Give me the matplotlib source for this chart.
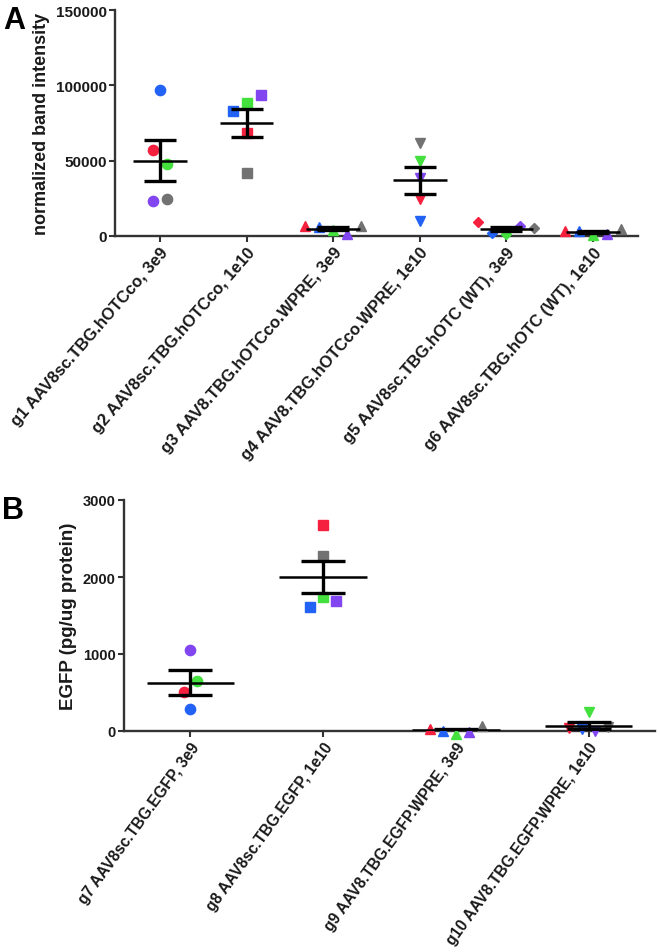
import numpy as np
import matplotlib
matplotlib.use("Agg")
import matplotlib.pyplot as plt

plt.rcParams['font.family'] = ['Liberation Sans', 'DejaVu Sans']
plt.rcParams['font.weight'] = 'bold'

# ---------------- data ----------------
colors_order = ['red', 'blue', 'green', 'purple', 'gray']

# Panel A: normalized band intensity (order: red, blue, green, purple, gray)
groups_a = ["g1 AAV8sc.TBG.hOTCco, 3e9",
            "g2 AAV8sc.TBG.hOTCco, 1e10",
            "g3 AAV8.TBG.hOTCco.WPRE, 3e9",
            "g4 AAV8.TBG.hOTCco.WPRE, 1e10",
            "g5 AAV8sc.TBG.hOTC (WT), 3e9",
            "g6 AAV8sc.TBG.hOTC (WT), 1e10"]
g1 = [57100, 97100, 48000, 23200, 24400]
g2 = [68400, 82800, 88300, 93800, 42000]
g3 = [6500, 5800, 4000, 1300, 6500]
g4 = [24600, 10200, 50000, 38500, 61700]
g5 = [9000, 2000, 1500, 6500, 5000]
g6 = [3500, 3000, 500, 1500, 4500]
values_a = [g1, g2, g3, g4, g5, g6]
yticks_a = [0, 50000, 100000, 150000]

# Panel B: EGFP (pg/ug protein)
groups_b = ["g7 AAV8sc.TBG.EGFP, 3e9",
            "g8 AAV8sc.TBG.EGFP, 1e10",
            "g9 AAV8.TBG.EGFP.WPRE, 3e9",
            "g10 AAV8.TBG.EGFP.WPRE, 1e10"]
g7 = [503, 286, 654, 1057]
g7_colors = ['red', 'blue', 'green', 'purple']
g8 = [2669, 1616, 1746, 1694, 2279]
g9 = [30, 0, -40, -10, 60]
g10 = [40, 20, 243, 0, 47]
values_b = [g7, g8, g9, g10]
colors_b = [g7_colors, colors_order, colors_order, colors_order]
yticks_b = [0, 1000, 2000, 3000]

# ---------------- style ----------------
palette = {'red': '#F5203E', 'blue': '#2262F5', 'green': '#44E03E',
           'purple': '#8246F0', 'gray': '#727272'}
markers_a = ['o', 's', '^', 'v', 'D', '^']
markers_b = ['o', 's', '^', 'v']
msize = {'o': 7.4, 's': 7.0, '^': 7.0, 'v': 7.0, 'D': 5.2}
AX_COL = '#333333'
TXT = '#1a1a1a'

fig = plt.figure(figsize=(6.6, 9.53), dpi=100)
W, H = 660, 953


def add_ax(l, t, r, b):
    return fig.add_axes([l / W, 1 - b / H, (r - l) / W, (b - t) / H])


def row_offsets(ax, vals, thresh_px, step_px):
    """Spread points that sit close together vertically (like a scatter dot plot)."""
    tr = ax.transData
    ypix = [tr.transform((0, v))[1] for v in vals]
    pxu = tr.transform((1, 0))[0] - tr.transform((0, 0))[0]
    order = np.argsort(ypix)
    rows, cur = [], [order[0]]
    for i in order[1:]:
        if ypix[i] - ypix[cur[-1]] < thresh_px:
            cur.append(i)
        else:
            rows.append(cur)
            cur = [i]
    rows.append(cur)
    offs = np.zeros(len(vals))
    for r in rows:
        r = sorted(r)
        n = len(r)
        for k, i in enumerate(r):
            offs[i] = (k - (n - 1) / 2) * step_px / pxu
    return offs


def draw_panel(ax, values, color_lists, markers, xlim, ylim, yticks, labels,
               mean_hw, cap_hw, rot, lab_fs, ytick_fs, ylab, ylab_fs, step_px):
    ax.set_xlim(*xlim)
    ax.set_ylim(*ylim)
    for gi, vals in enumerate(values):
        offs = row_offsets(ax, vals, 15, step_px)
        m = markers[gi]
        for v, c, o in zip(vals, color_lists[gi], offs):
            ax.plot(gi + o, v, marker=m, ms=msize[m], color=palette[c],
                    mec=palette[c], ls='none', zorder=3, clip_on=False)
        arr = np.array(vals, dtype=float)
        mean = arr.mean()
        sem = arr.std(ddof=1) / np.sqrt(len(arr))
        ax.hlines(mean, gi - mean_hw, gi + mean_hw, color='black', lw=1.8, zorder=4)
        ax.vlines(gi, mean - sem, mean + sem, color='black', lw=2.4, zorder=4)
        ax.hlines([mean - sem, mean + sem], gi - cap_hw, gi + cap_hw, color='black', lw=2.4, zorder=4)
    for s in ['top', 'right']:
        ax.spines[s].set_visible(False)
    for s in ['left', 'bottom']:
        ax.spines[s].set_color(AX_COL)
        ax.spines[s].set_linewidth(1.7)
    ax.set_yticks(yticks)
    ax.set_yticklabels([str(t) for t in yticks], fontsize=ytick_fs, fontweight='bold', color=TXT)
    ax.set_xticks(range(len(values)))
    ax.set_xticklabels(labels, rotation=rot, ha='right', va='top', rotation_mode='anchor',
                       fontsize=lab_fs, fontweight='bold', color=TXT)
    ax.tick_params(axis='both', direction='out', length=4, width=1.5, color=AX_COL, pad=2)
    ax.set_ylabel(ylab, fontsize=ylab_fs, fontweight='bold', color=TXT, labelpad=4)


axA = add_ax(115, 11, 638, 237)
draw_panel(axA, values_a, [colors_order] * 6, markers_a, (-0.52, 5.52), (0, 150000),
           yticks_a, groups_a, 0.31, 0.185, 49, 12, 11, 'normalized band intensity', 13, 14)

axB = add_ax(124, 501, 655, 732)
draw_panel(axB, values_b, colors_b, markers_b, (-0.5, 3.5), (0, 3000),
           yticks_b, groups_b, 0.33, 0.165, 54, 11.2, 10.5, 'EGFP (pg/ug protein)', 13.5, 13)

fig.text(3 / W, 1 - 6 / H, 'A', fontsize=22, fontweight='bold', va='top', ha='left')
fig.text(2 / W, 1 - 496 / H, 'B', fontsize=22, fontweight='bold', va='top', ha='left')

fig.savefig('out.png', dpi=100, facecolor='white')
